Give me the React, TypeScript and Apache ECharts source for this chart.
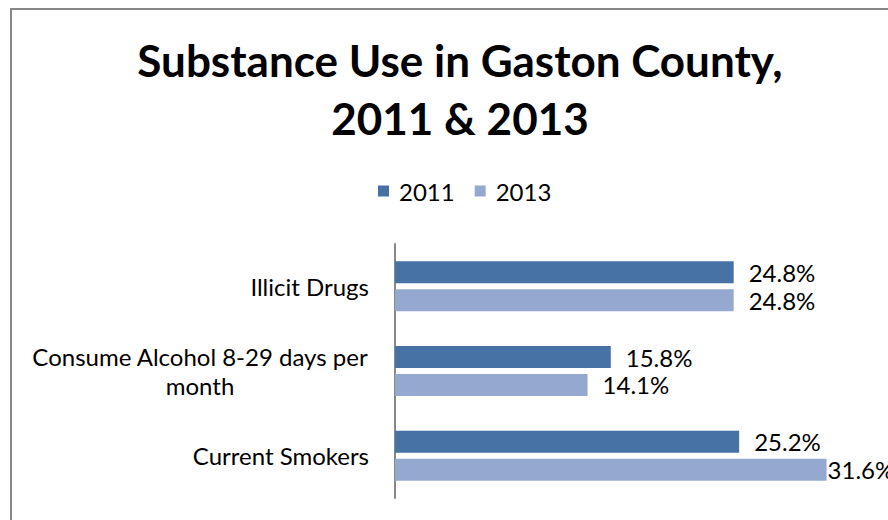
import React, { useEffect, useRef } from "react";
import * as echarts from "echarts";

const categories = ["Illicit Drugs", "Consume Alcohol 8-29 days per\nmonth", "Current Smokers"];
const seriesNames = ["2011", "2013"];
const values2011 = [24.8, 15.8, 25.2];
const values2013 = [24.8, 14.1, 31.6];
const titleLines = ["Substance Use in Gaston County,", "2011 & 2013"];

const FONT = "Lato, 'Open Sans', sans-serif";

export default function App() {
  const ref = useRef<HTMLDivElement>(null);
  useEffect(() => {
    const chart = echarts.init(ref.current!, null, { renderer: "svg" });
    const fmt = (p: any) => Number(p.value).toFixed(1) + "%";
    const labelBase = {
      show: true,
      position: "right",
      distance: 15,
      formatter: fmt,
      fontFamily: FONT,
      fontSize: 24,
      color: "#000",
    };
    chart.setOption({
      animation: false,
      backgroundColor: "#ffffff",
      title: {
        text: titleLines.join("\n"),
        top: 26,
        left: 455,
        textAlign: "center",
        textStyle: { fontFamily: FONT, fontWeight: "bold", fontSize: 44, lineHeight: 58, color: "#000" },
      },
      legend: {
        data: seriesNames,
        top: 174,
        left: 373,
        itemWidth: 11,
        itemHeight: 11,
        itemGap: 20,
        icon: "rect",
        textStyle: { fontFamily: FONT, fontSize: 24, color: "#000", padding: [0, 0, 0, 5] },
      },
      graphic: [
        {
          type: "rect",
          shape: { x: 11, y: 9, width: 1000, height: 1000 },
          style: { fill: "none", stroke: "#888888", lineWidth: 2 },
          z: 10,
        },
      ],
      grid: { left: 395, top: 244, width: 478, height: 254 },
      xAxis: {
        type: "value",
        min: 0,
        max: 35,
        show: false,
      },
      yAxis: {
        type: "category",
        data: categories,
        inverse: true,
        axisLine: { show: true, lineStyle: { color: "#888888", width: 2 } },
        axisTick: { show: false },
        axisLabel: {
          margin: 26,
          fontFamily: FONT,
          fontSize: 24,
          color: "#000",
          lineHeight: 29,
          formatter: (v: string) => {
            if (v.indexOf("\n") >= 0) {
              return v
                .split("\n")
                .map((s) => "{c|" + s + "}")
                .join("\n");
            }
            return v;
          },
          rich: {
            c: { width: 338, align: "center", fontFamily: FONT, fontSize: 24, color: "#000", lineHeight: 29 },
          },
        },
      },
      series: [
        {
          name: seriesNames[0],
          type: "bar",
          data: values2011,
          barWidth: 22,
          barGap: "27%",
          itemStyle: { color: "#4672A6" },
          label: labelBase,
        },
        {
          name: seriesNames[1],
          type: "bar",
          data: values2013.map((v, i) =>
            i === values2013.length - 1 ? { value: v, label: { distance: 1 } } : v
          ),
          barWidth: 22,
          barGap: "27%",
          itemStyle: { color: "#95A9D0" },
          label: labelBase,
        },
      ],
    });
    return () => chart.dispose();
  }, []);
  return <div ref={ref} style={{ position: "fixed", left: 0, top: 0, width: 888, height: 520 }} />;
}
